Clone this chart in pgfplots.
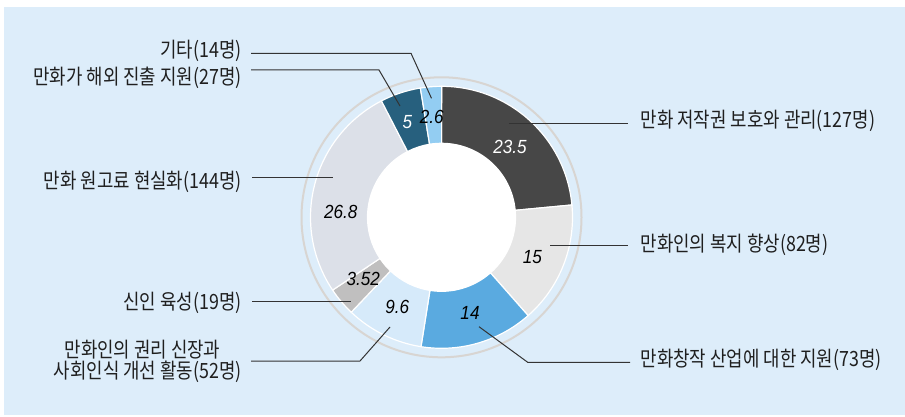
\documentclass[border=0pt]{standalone}
\usepackage{pgfplots}
\pgfplotsset{compat=1.18}
\usepackage{fontspec}
\setmainfont{Liberation Sans}
\newfontfamily\kr{Noto Sans CJK KR}[FakeStretch=0.85]
\newfontfamily\num{Liberation Sans}[FakeStretch=0.9]

\definecolor{bgblue}{HTML}{DDEDFA}
\definecolor{cdark}{HTML}{474747}
\definecolor{cwelfare}{HTML}{E6E6E6}
\definecolor{cblue}{HTML}{5AAAE0}
\definecolor{cpale}{HTML}{D6EAFA}
\definecolor{cgray}{HTML}{C0BFBF}
\definecolor{cslate}{HTML}{DCE0E8}
\definecolor{cteal}{HTML}{27607E}
\definecolor{csky}{HTML}{93CDF2}
\definecolor{ringgray}{HTML}{D8D5D2}
\definecolor{leader}{HTML}{333333}

% donut geometry (axis units = pt = px)
\def\cx{441.5}\def\cy{217.3}\def\ro{131}\def\ri{74}
\gdef\cum{0}
% one slice: share in %, fill colour; slices run clockwise from 12 o'clock
\newcommand\slice[2]{%
  \pgfmathsetmacro\a{90-3.6*\cum}%
  \pgfmathsetmacro\b{90-3.6*(\cum+#1)}%
  \edef\next{\noexpand\fill[#2, draw=white, line width=1.2pt]
    (axis cs:{\cx+\ro*cos(\a)},{\cy-\ro*sin(\a)})
    arc[start angle=\a, end angle=\b, radius=\ro pt]
    -- (axis cs:{\cx+\ri*cos(\b)},{\cy-\ri*sin(\b)})
    arc[start angle=\b, end angle=\a, radius=\ri pt] -- cycle;}%
  \next
  \pgfmathsetmacro\tmp{\cum+#1}\xdef\cum{\tmp}%
}

\begin{document}
\begin{tikzpicture}
\begin{axis}[
  scale only axis, width=905pt, height=417pt,
  xmin=0, xmax=905, ymin=0, ymax=417, y dir=reverse,
  enlargelimits=false, hide axis, clip=false,
]
\fill[white] (axis cs:0,0) rectangle (axis cs:905,417);
\fill[bgblue] (axis cs:4,7) rectangle (axis cs:905,415);
\draw[ringgray, line width=2pt] (axis cs:\cx,\cy) circle[radius=140pt];

\slice{23.5}{cdark}
\slice{15}{cwelfare}
\slice{14}{cblue}
\slice{9.6}{cpale}
\slice{3.52}{cgray}
\slice{26.8}{cslate}
\slice{5}{cteal}
\slice{2.6}{csky}
\fill[white] (axis cs:\cx,\cy) circle[radius=\ri pt];

% leader lines
\addplot[leader, line width=1pt] coordinates {(251,53.3) (411,53.3) (431.5,98.3)};
\addplot[leader, line width=1pt] coordinates {(251,70) (379,70) (400,106)};
\addplot[leader, line width=1pt] coordinates {(252,177.5) (333,177.5)};
\addplot[leader, line width=1pt] coordinates {(252,301.5) (350.5,301.5)};
\addplot[leader, line width=1pt] coordinates {(251,361) (360,361) (390,327)};
\addplot[leader, line width=1pt] coordinates {(508.5,123.5) (628,123.5)};
\addplot[leader, line width=1pt] coordinates {(550,245.7) (628,245.7)};
\addplot[leader, line width=1pt] coordinates {(479,326.7) (527.7,362.3) (630,362.3)};

% values in the slices
\begin{scope}[every node/.style={inner sep=0pt, font=\num\itshape\fontsize{19}{21}\selectfont}]
\node[text=white] at (axis cs:510,147.3) {23.5};
\node at (axis cs:532.3,256.7) {15};
\node at (axis cs:470,313.3) {14};
\node at (axis cs:397.3,307.3) {9.6};
\node at (axis cs:363.3,279.3) {3.52};
\node at (axis cs:340.7,211.7) {26.8};
\node[text=white] at (axis cs:407.3,121.7) {5};
\node at (axis cs:431.7,117.3) {2.6};
\end{scope}

% category labels (baseline = visual centre + 8)
\begin{scope}[every node/.style={inner sep=0pt, text=black!88, font=\kr\fontsize{21}{23}\selectfont}]
\node[anchor=base east] at (axis cs:241.7,58) {기타(14명)};
\node[anchor=base east] at (axis cs:241.7,84.7) {만화가 해외 진출 지원(27명)};
\node[anchor=base east] at (axis cs:241.7,188) {만화 원고료 현실화(144명)};
\node[anchor=base east] at (axis cs:241.7,309.7) {신인 육성(19명)};
\node[anchor=base] at (axis cs:142.5,357.5) {만화인의 권리 신장과};
\node[anchor=base east] at (axis cs:241.7,378.5) {사회인식 개선 활동(52명)};
\node[anchor=base west] at (axis cs:640.5,128) {만화 저작권 보호와 관리(127명)};
\node[anchor=base west] at (axis cs:640.5,251.3) {만화인의 복지 향상(82명)};
\node[anchor=base west] at (axis cs:640.5,366) {만화창작 산업에 대한 지원(73명)};
\end{scope}
\end{axis}
\end{tikzpicture}
\end{document}
